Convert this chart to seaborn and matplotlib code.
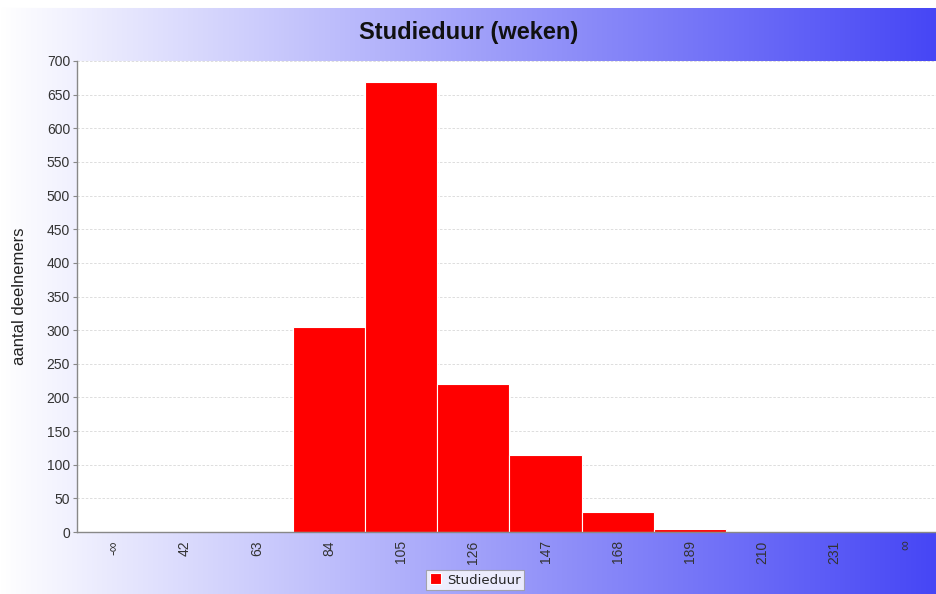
import matplotlib
matplotlib.use('Agg')
import matplotlib.pyplot as plt
import seaborn as sns
import numpy as np

# data
categories = ['-∞', '42', '63', '84', '105', '126', '147', '168', '189', '210', '231', '∞']
counts = [0, 0, 0, 305, 669, 220, 114, 29, 4, 0, 0, 0]
series_name = 'Studieduur'
title = 'Studieduur (weken)'
y_label = 'aantal deelnemers'
y_ticks = list(range(0, 701, 50))

sns.set_style('white')
plt.rcParams['font.family'] = ['Liberation Sans', 'DejaVu Sans']

W, H = 937, 594
fig = plt.figure(figsize=(W / 100, H / 100), dpi=100)

# background gradient white -> blue, left to right
bg = fig.add_axes([0, 0, 1, 1])
t = np.linspace(0, 1, 400)
left = np.array([1.0, 1.0, 1.0])
right = np.array([70, 70, 245]) / 255
grad = left[None, :] * (1 - t[:, None]) + right[None, :] * t[:, None]
img = np.tile(grad[None, :, :], (H, 1, 1))
img[:8, :, :] = 1.0
bg.imshow(img, aspect='auto', extent=[0, 1, 0, 1])
bg.set_axis_off()

ax = fig.add_axes([77 / W, (H - 532) / H, 865 / W, 471 / H])
ax.set_facecolor('white')
sns.barplot(x=categories, y=counts, color='#ff0000', saturation=1, width=1.0,
            edgecolor='white', linewidth=0.8, ax=ax, label=series_name, order=categories)

ax.set_xlim(-0.5, len(categories) - 0.5)
ax.set_ylim(0, 700)
ax.set_yticks(y_ticks)
ax.yaxis.grid(True, linestyle=(0, (3, 2)), color='#d8d8d8', linewidth=0.6)
ax.set_axisbelow(True)
ax.tick_params(axis='y', length=3, color='#888888', labelsize=10, labelcolor='#333333', pad=2, left=True)
ax.tick_params(axis='x', length=0, labelsize=10, labelcolor='#333333', pad=6, rotation=90)
for lbl in ax.get_xticklabels():
    lbl.set_va('top')
    lbl.set_ha('center')
ax.set_xlabel('')
ax.set_ylabel(y_label, fontsize=12, color='#222222')
ax.yaxis.set_label_coords(-50 / 865, 0.5)
for side in ['top', 'right']:
    ax.spines[side].set_visible(False)
for side in ['left', 'bottom']:
    ax.spines[side].set_color('#888888')
    ax.spines[side].set_linewidth(1)

fig.text(0.5, 1 - 33 / H, title, ha='center', va='center', fontsize=17,
         fontweight='bold', color='#111111')

leg = ax.legend(loc='center', bbox_to_anchor=(475 / W, 1 - 580 / H),
                bbox_transform=fig.transFigure, frameon=True, fancybox=False,
                prop={'family': 'DejaVu Sans', 'size': 9.5}, handlelength=0.9,
                handleheight=0.9, handletextpad=0.4, borderpad=0.3, borderaxespad=0)
leg.get_frame().set_edgecolor('#999999')
leg.get_frame().set_linewidth(0.8)

fig.savefig('out.png', dpi=100)
